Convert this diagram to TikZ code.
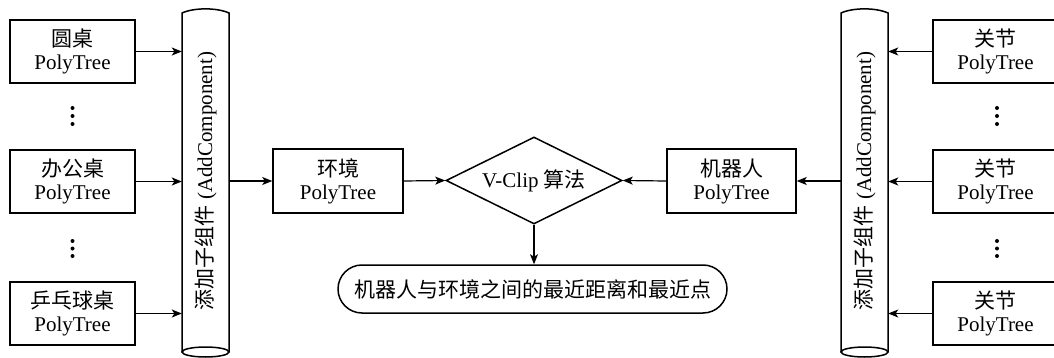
\documentclass[tikz,border=0pt]{standalone}
\usepackage{fontspec}
\setmainfont{Liberation Serif}
\newfontfamily\cjk{Noto Sans CJK SC}
\usetikzlibrary{shapes.geometric,arrows.meta}
\tikzset{
  box/.style={draw, line width=1.5pt, minimum width=125pt, minimum height=63pt, inner sep=0pt, align=center, font=\fontsize{21}{23}\selectfont},
  dia/.style={draw, diamond, line width=1.5pt, minimum width=176pt, minimum height=87pt, aspect=2.02, inner sep=0pt, font=\fontsize{21}{23}\selectfont},
  stad/.style={draw, line width=1.5pt, rounded corners=24pt, minimum width=389pt, minimum height=48pt, inner sep=0pt, font=\fontsize{21}{23}\selectfont},
  cylnode/.style={minimum width=47pt, minimum height=339pt, inner sep=0pt},
  cyltext/.style={rotate=90, font=\fontsize{21}{23}\selectfont},
  arr/.style={line width=1.2pt, -{Stealth[length=10pt,width=8pt,inset=2.5pt]}},
  cylline/.style={line width=1.5pt},
  dot/.style={circle, fill, inner sep=0pt, minimum size=4pt}
}
\begin{document}
\begin{tikzpicture}[x=1pt,y=-1pt]
\useasboundingbox (0,0) rectangle (1054,358);
% left boxes
\node[box] (l1) at (72.5,51.5) {{\cjk 圆桌}\\PolyTree};
\node[box] (l2) at (72.5,181.5) {{\cjk 办公桌}\\PolyTree};
\node[box] (l3) at (72.5,313.5) {{\cjk 乒乓球桌}\\PolyTree};
% left dots
\node[dot] (ld1a) at (72.5,108) {};
\node[dot] (ld1b) at (72.5,116) {};
\node[dot] (ld1c) at (72.5,124) {};
\node[dot] (ld2a) at (72.5,241) {};
\node[dot] (ld2b) at (72.5,248.5) {};
\node[dot] (ld2c) at (72.5,256) {};
% left cylinder
\node[cylnode] (cylL) at (205.5,182.5) {};
\draw[cylline] (182,352) -- (182,13) .. controls (194,7.5) and (217,7.5) .. (229,13) -- (229,352);
\draw[cylline] (205.5,352) ellipse (23.5pt and 5pt);
\node[cyltext] (cylLt) at (205.5,181) {{\cjk 添加子组件} (AddComponent)};
% right cylinder
\node[cylnode] (cylR) at (864.5,182.5) {};
\draw[cylline] (841,352) -- (841,13) .. controls (853,7.5) and (876,7.5) .. (888,13) -- (888,352);
\draw[cylline] (864.5,352) ellipse (23.5pt and 5pt);
\node[cyltext] (cylRt) at (864.5,181) {{\cjk 添加子组件} (AddComponent)};
% right boxes
\node[box] (r1) at (995.5,51.5) {{\cjk 关节}\\PolyTree};
\node[box] (r2) at (995.5,181.5) {{\cjk 关节}\\PolyTree};
\node[box] (r3) at (995.5,313.5) {{\cjk 关节}\\PolyTree};
\node[dot] (rd1a) at (997,108) {};
\node[dot] (rd1b) at (997,116) {};
\node[dot] (rd1c) at (997,124) {};
\node[dot] (rd2a) at (997,241) {};
\node[dot] (rd2b) at (997,248.5) {};
\node[dot] (rd2c) at (997,256) {};
% center
\node[box, minimum width=130pt, minimum height=64pt] (env) at (338,181) {{\cjk 环境}\\PolyTree};
\node[dia] (vclip) at (534,180.5) {V-Clip {\cjk 算法}};
\node[box, minimum width=129pt, minimum height=64pt] (robot) at (731.5,181) {{\cjk 机器人}\\PolyTree};
\node[stad] (res) at (532.5,289) {\cjk 机器人与环境之间的最近距离和最近点};
% arrows
\draw[arr] (l1.east) -- (l1.east -| cylL.west);
\draw[arr] (l2.east) -- (l2.east -| cylL.west);
\draw[arr] (l3.east) -- (l3.east -| cylL.west);
\draw[arr] (cylL.east |- env.west) -- (env.west);
\draw[arr] (env.east) -- (vclip.west);
\draw[arr] (robot.west) -- (vclip.east);
\draw[arr] (cylR.west |- robot.east) -- (robot.east);
\draw[arr] (r1.west) -- (r1.west -| cylR.east);
\draw[arr] (r2.west) -- (r2.west -| cylR.east);
\draw[arr] (r3.west) -- (r3.west -| cylR.east);
\draw[arr] (vclip.south) -- (vclip.south |- res.north);
\end{tikzpicture}
\end{document}
